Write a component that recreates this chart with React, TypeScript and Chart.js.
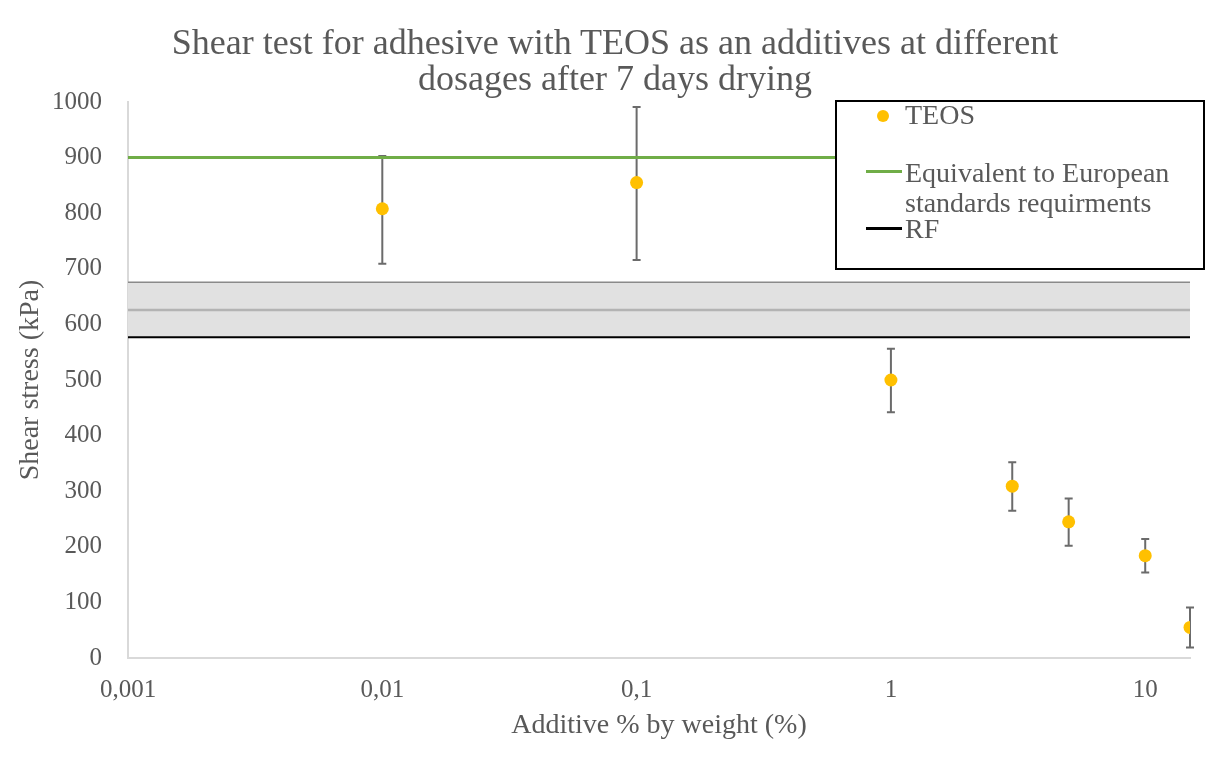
import React, { useEffect, useRef } from "react";
import { Chart, registerables } from "chart.js";

Chart.register(...registerables);

// ---- data ----
const additivePercent = [0.01, 0.1, 1, 3, 5, 10, 15];
const shearStress = [808, 855, 500, 309, 245, 184, 55];
const errorUpper = [903, 991, 556, 352, 287, 214, 91];
const errorLower = [709, 716, 442, 265, 202, 154, 19];

const europeanStandard = 900;
const bandUpper = 676;
const bandMiddle = 626;
const rfLevel = 577;

const xRange = [0.001, 15];
const xTickValues = [0.001, 0.01, 0.1, 1, 10];
const xTickLabels = ["0,001", "0,01", "0,1", "1", "10"];
const yTickValues = [0, 100, 200, 300, 400, 500, 600, 700, 800, 900, 1000];

const titleLines = [
  "Shear test for adhesive with TEOS as an additives at different",
  "dosages after 7 days drying",
];
const xTitle = "Additive % by weight (%)";
const yTitle = "Shear stress (kPa)";
const legendLabels = ["TEOS", "Equivalent to European", "standards requirments", "RF"];

const FONT = "'Liberation Serif', 'Times New Roman', serif";
const TEXT = "#595959";

export default function App() {
  const ref = useRef<HTMLCanvasElement | null>(null);

  useEffect(() => {
    if (!ref.current) return;
    const hLine = (y: number) => [
      { x: xRange[0], y },
      { x: xRange[1], y },
    ];

    const errorBars = {
      id: "errorBars",
      beforeDatasetsDraw(chart: any) {
        const { ctx, scales } = chart;
        const xs = scales.x;
        const ys = scales.y;
        ctx.save();
        ctx.strokeStyle = "#6b6b6b";
        ctx.lineWidth = 2;
        additivePercent.forEach((xv, i) => {
          const px = xs.getPixelForValue(xv);
          const top = ys.getPixelForValue(errorUpper[i]);
          const bot = ys.getPixelForValue(errorLower[i]);
          ctx.beginPath();
          ctx.moveTo(px, top);
          ctx.lineTo(px, bot);
          ctx.moveTo(px - 4, top);
          ctx.lineTo(px + 4, top);
          ctx.moveTo(px - 4, bot);
          ctx.lineTo(px + 4, bot);
          ctx.stroke();
        });
        ctx.restore();
      },
    };

    const chart = new Chart(ref.current, {
      type: "scatter",
      data: {
        datasets: [
          {
            label: "TEOS",
            data: additivePercent.map((x, i) => ({ x, y: shearStress[i] })),
            backgroundColor: "#FFC000",
            borderWidth: 0,
            pointRadius: 6.5,
            showLine: false,
          },
          {
            label: "Equivalent to European standards requirments",
            data: hLine(europeanStandard),
            borderColor: "#70AD47",
            borderWidth: 3,
            pointRadius: 0,
            showLine: true,
          },
          {
            label: "RF",
            data: hLine(rfLevel),
            borderColor: "#000000",
            borderWidth: 2,
            pointRadius: 0,
            showLine: true,
          },
          {
            label: "band middle",
            data: hLine(bandMiddle),
            borderColor: "#b3b3b3",
            borderWidth: 2.5,
            pointRadius: 0,
            showLine: true,
          },
          {
            label: "band upper",
            data: hLine(bandUpper),
            borderColor: "#8a8a8a",
            borderWidth: 1.5,
            pointRadius: 0,
            showLine: true,
          },
          {
            label: "band lower",
            data: hLine(rfLevel),
            borderColor: "rgba(0,0,0,0)",
            borderWidth: 0,
            backgroundColor: "#e1e1e1",
            pointRadius: 0,
            showLine: true,
            fill: "-1",
          },
        ],
      },
      options: {
        responsive: false,
        animation: false,
        devicePixelRatio: 1,
        layout: { padding: { left: 0, right: 25, top: 94, bottom: 0 } },
        plugins: {
          legend: { display: false },
          tooltip: { enabled: false },
          title: { display: false },
        },
        scales: {
          x: {
            type: "logarithmic",
            min: xRange[0],
            max: xRange[1],
            grid: { display: false, drawTicks: false },
            border: { display: true, color: "#d9d9d9", width: 2 },
            afterBuildTicks: (s: any) => {
              s.ticks = xTickValues.map((v) => ({ value: v }));
            },
            afterFit: (s: any) => {
              s.height = 94;
            },
            ticks: {
              autoSkip: false,
              maxRotation: 0,
              padding: 17,
              color: TEXT,
              font: { family: FONT, size: 25 },
              callback: (v: any) => {
                const idx = xTickValues.findIndex((t) => Math.abs(t - Number(v)) / t < 1e-6);
                return idx >= 0 ? xTickLabels[idx] : "";
              },
            },
            title: {
              display: true,
              text: xTitle,
              color: TEXT,
              font: { family: FONT, size: 28 },
              padding: { top: 0, bottom: 10 },
            },
          },
          y: {
            type: "linear",
            min: 0,
            max: 1000,
            grid: { display: false, drawTicks: false },
            border: { display: true, color: "#d9d9d9", width: 2 },
            afterBuildTicks: (s: any) => {
              s.ticks = yTickValues.map((v) => ({ value: v }));
            },
            afterFit: (s: any) => {
              s.width = 120;
            },
            ticks: {
              padding: 26,
              color: TEXT,
              font: { family: FONT, size: 25 },
              callback: (v: any) => String(v),
            },
            title: {
              display: true,
              text: yTitle,
              color: TEXT,
              font: { family: FONT, size: 28 },
              padding: { top: 6, bottom: 0 },
            },
          },
        },
      },
      plugins: [errorBars],
    } as any);
    return () => chart.destroy();
  }, []);

  const textStyle: React.CSSProperties = {
    position: "absolute",
    fontFamily: FONT,
    color: TEXT,
    fontSize: 28,
    lineHeight: "30px",
    whiteSpace: "nowrap",
  };

  return (
    <div style={{ position: "relative", width: 1207, height: 744 }}>
      <div
        style={{
          position: "absolute",
          left: -2,
          top: -2,
          width: 1213,
          height: 750,
          borderTop: "2px solid #d9d9d9",
          borderLeft: "2px solid #d9d9d9",
          pointerEvents: "none",
        }}
      />
      <canvas ref={ref} width={1207} height={744} style={{ display: "block" }} />
      <div
        style={{
          position: "absolute",
          left: 107,
          top: 16,
          width: 1000,
          textAlign: "center",
          fontFamily: FONT,
          color: TEXT,
          fontSize: 36,
          lineHeight: "36px",
          whiteSpace: "nowrap",
        }}
      >
        <div>{titleLines[0]}</div>
        <div>{titleLines[1]}</div>
      </div>
      <div
        style={{
          position: "absolute",
          left: 827,
          top: 92,
          width: 366,
          height: 166,
          border: "2px solid #000",
          background: "#fff",
        }}
      />
      <div
        style={{
          position: "absolute",
          left: 869,
          top: 102,
          width: 12,
          height: 12,
          borderRadius: 6,
          background: "#FFC000",
        }}
      />
      <div style={{ ...textStyle, left: 897, top: 92 }}>{legendLabels[0]}</div>
      <div style={{ position: "absolute", left: 858, top: 162, width: 36, height: 3, background: "#70AD47" }} />
      <div style={{ ...textStyle, left: 897, top: 150 }}>
        {legendLabels[1]}
        <br />
        {legendLabels[2]}
      </div>
      <div style={{ position: "absolute", left: 858, top: 219, width: 36, height: 3, background: "#000" }} />
      <div style={{ ...textStyle, left: 897, top: 206 }}>{legendLabels[3]}</div>
    </div>
  );
}
